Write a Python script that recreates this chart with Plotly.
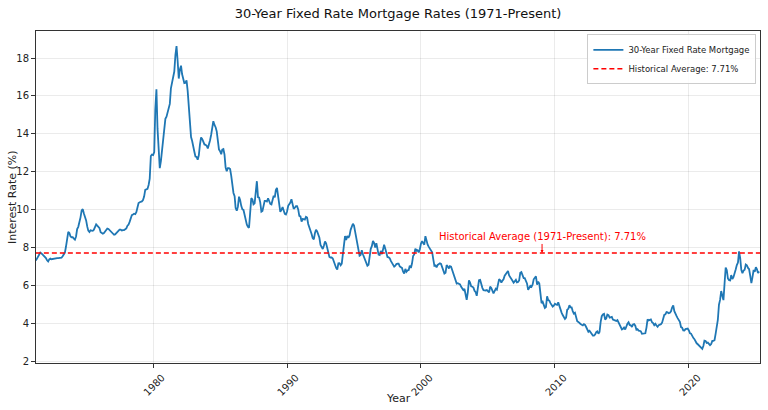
import pandas as pd
import plotly.graph_objects as go

# Monthly 30-year fixed mortgage rates (%)
rates_1970s = [
    7.31, 7.43, 7.53, 7.62, 7.73, 7.69, 7.63, 7.55, 7.48,            # 1971 (Apr-Dec)
    7.44, 7.32, 7.26, 7.37, 7.41, 7.38, 7.40, 7.40, 7.43, 7.43, 7.44, 7.44,
    7.44, 7.44, 7.46, 7.54, 7.65, 7.73, 8.05, 8.50, 8.82, 8.77, 8.58, 8.54,
    8.54, 8.46, 8.41, 8.58, 8.97, 9.09, 9.28, 9.59, 9.96, 10.02, 9.79, 9.62,
    9.43, 9.10, 8.89, 8.82, 8.91, 8.89, 8.88, 8.94, 9.13, 9.22, 9.15, 9.10,
    9.02, 8.81, 8.76, 8.73, 8.76, 8.85, 8.93, 9.00, 8.98, 8.92, 8.81, 8.79,
    8.72, 8.67, 8.69, 8.75, 8.83, 8.86, 8.94, 8.94, 8.90, 8.92, 8.92, 8.96,
    9.01, 9.15, 9.20, 9.35, 9.57, 9.71, 9.74, 9.78, 9.76, 9.86, 10.11, 10.35,
    10.39, 10.41, 10.43, 10.50, 10.69, 11.04, 11.09, 11.09, 11.30, 11.64, 12.83, 12.90,
]
rates_1980s = [
    12.88, 13.04, 15.28, 16.35, 14.26, 12.71, 12.19, 12.56, 13.20, 13.79, 14.21, 14.79,
    14.90, 15.13, 15.40, 15.58, 16.40, 16.70, 16.83, 17.29, 18.16, 18.63, 17.83, 16.92,
    17.40, 17.60, 17.16, 16.89, 16.68, 16.70, 16.82, 16.27, 15.43, 14.61, 13.83, 13.62,
    13.25, 13.04, 12.80, 12.78, 12.63, 12.87, 13.42, 13.81, 13.73, 13.54, 13.44, 13.42,
    13.37, 13.23, 13.39, 13.65, 13.94, 14.42, 14.67, 14.47, 14.35, 14.13, 13.64, 13.18,
    13.08, 12.92, 13.17, 13.20, 12.91, 12.22, 12.03, 12.19, 12.19, 12.14, 11.78, 11.26,
    10.88, 10.71, 10.08, 9.94, 10.14, 10.68, 10.51, 10.20, 10.01, 9.98, 9.70, 9.32,
    9.20, 9.08, 9.04, 9.83, 10.60, 10.54, 10.28, 10.33, 10.89, 11.50, 10.65, 10.64,
    10.38, 9.89, 9.93, 10.20, 10.46, 10.46, 10.43, 10.60, 10.48, 10.30, 10.27, 10.61,
    10.73, 10.65, 11.03, 11.15, 10.77, 10.20, 9.88, 9.99, 10.13, 9.95, 9.77, 9.74,
]
rates_1990s = [
    9.90, 10.20, 10.27, 10.37, 10.55, 10.16, 10.04, 10.10, 10.18, 10.18, 10.01, 9.67,
    9.64, 9.37, 9.50, 9.49, 9.47, 9.62, 9.58, 9.24, 9.01, 8.86, 8.71, 8.50,
    8.43, 8.76, 8.94, 8.85, 8.67, 8.51, 8.13, 7.98, 7.92, 8.09, 8.31, 8.22,
    7.99, 7.68, 7.50, 7.47, 7.47, 7.42, 7.21, 7.11, 6.92, 6.83, 7.16, 7.17,
    7.06, 7.15, 7.68, 8.32, 8.60, 8.40, 8.61, 8.51, 8.64, 8.93, 9.17, 9.25,
    9.15, 8.83, 8.46, 8.32, 7.96, 7.57, 7.61, 7.86, 7.64, 7.48, 7.38, 7.20,
    7.03, 7.08, 7.62, 7.93, 8.07, 8.35, 8.25, 8.00, 8.23, 7.92, 7.62, 7.60,
    7.82, 7.65, 7.90, 8.14, 7.94, 7.69, 7.50, 7.48, 7.43, 7.29, 7.21, 7.10,
    6.99, 7.04, 7.13, 7.14, 7.14, 7.00, 6.95, 6.92, 6.72, 6.62, 6.87, 6.72,
    6.79, 6.81, 7.04, 6.92, 7.15, 7.55, 7.63, 7.94, 7.82, 7.85, 7.74, 7.91,
]
rates_2000s = [
    8.21, 8.33, 8.24, 8.15, 8.60, 8.29, 8.15, 8.03, 7.91, 7.80, 7.75, 7.38,
    7.03, 7.05, 6.95, 7.08, 7.15, 7.16, 7.13, 6.95, 6.82, 6.62, 6.66, 7.07,
    7.00, 6.89, 7.01, 6.99, 6.81, 6.65, 6.49, 6.29, 6.09, 6.11, 6.07, 6.05,
    5.92, 5.84, 5.75, 5.81, 5.48, 5.23, 5.63, 6.26, 6.15, 5.95, 5.93, 5.88,
    5.71, 5.64, 5.45, 5.83, 6.27, 6.29, 6.06, 5.87, 5.75, 5.72, 5.73, 5.75,
    5.71, 5.63, 5.93, 5.86, 5.72, 5.58, 5.70, 5.82, 5.77, 6.07, 6.33, 6.27,
    6.15, 6.25, 6.32, 6.51, 6.60, 6.68, 6.76, 6.52, 6.40, 6.36, 6.24, 6.14,
    6.22, 6.29, 6.16, 6.18, 6.26, 6.66, 6.70, 6.57, 6.38, 6.38, 6.21, 6.10,
    5.76, 5.92, 5.97, 5.92, 6.04, 6.32, 6.43, 6.48, 6.04, 6.20, 6.09, 5.33,
    5.06, 5.13, 5.00, 4.81, 4.86, 5.42, 5.22, 5.19, 5.06, 4.95, 4.88, 4.93,
]
rates_2010s = [
    5.03, 4.99, 4.97, 5.10, 4.89, 4.74, 4.56, 4.43, 4.35, 4.23, 4.30, 4.71,
    4.76, 4.95, 4.84, 4.84, 4.64, 4.51, 4.55, 4.27, 4.11, 4.07, 3.99, 3.96,
    3.92, 3.89, 3.95, 3.91, 3.80, 3.68, 3.55, 3.60, 3.50, 3.38, 3.35, 3.35,
    3.41, 3.53, 3.57, 3.45, 3.54, 4.07, 4.37, 4.46, 4.49, 4.19, 4.26, 4.46,
    4.43, 4.30, 4.34, 4.34, 4.19, 4.16, 4.13, 4.12, 4.16, 4.04, 4.00, 3.86,
    3.67, 3.71, 3.77, 3.67, 3.84, 3.98, 4.05, 3.91, 3.89, 3.80, 3.94, 3.96,
    3.87, 3.66, 3.69, 3.61, 3.60, 3.57, 3.44, 3.44, 3.46, 3.47, 3.77, 4.20,
    4.15, 4.17, 4.20, 4.05, 4.01, 3.90, 3.97, 3.88, 3.81, 3.90, 3.92, 3.95,
    4.03, 4.33, 4.44, 4.47, 4.59, 4.57, 4.53, 4.55, 4.63, 4.83, 4.94, 4.64,
    4.46, 4.37, 4.27, 4.14, 4.07, 3.80, 3.77, 3.62, 3.61, 3.69, 3.70, 3.72,
]
rates_2020s = [
    3.62, 3.47, 3.45, 3.31, 3.23, 3.16, 3.02, 2.94, 2.89, 2.83, 2.77, 2.68,
    2.65, 2.81, 3.08, 3.06, 2.96, 2.98, 2.87, 2.84, 2.90, 3.07, 3.07, 3.10,
    3.45, 3.76, 4.17, 4.98, 5.23, 5.70, 5.41, 5.22, 6.11, 6.94, 6.80, 6.36,
    6.27, 6.26, 6.54, 6.34, 6.43, 6.71, 6.84, 7.07, 7.20, 7.79, 7.44, 6.82,
    6.64, 6.78, 6.82, 7.10, 7.06, 6.92, 6.85, 6.50, 6.12, 6.43, 6.81, 6.72,
    6.96, 6.84, 6.65, 6.73,
]

historical_average = 7.71
start_month = "1971-04-01"
x_ticks = ["1980-01-01", "1990-01-01", "2000-01-01", "2010-01-01", "2020-01-01"]
x_tick_labels = ["1980", "1990", "2000", "2010", "2020"]
y_ticks = [2, 4, 6, 8, 10, 12, 14, 16, 18]
annotation_date = "2009-01-15"

rates = rates_1970s + rates_1980s + rates_1990s + rates_2000s + rates_2010s + rates_2020s
dates = pd.date_range(start_month, periods=len(rates), freq="MS")

FONT = "DejaVu Sans"

fig = go.Figure()
fig.add_trace(go.Scatter(
    x=dates, y=rates, mode="lines", name="30-Year Fixed Rate Mortgage",
    line=dict(color="#1f77b4", width=1.8),
))
fig.add_trace(go.Scatter(
    x=[dates[0], pd.Timestamp("2025-04-24")], y=[historical_average, historical_average],
    mode="lines", name=f"Historical Average: {historical_average}%",
    line=dict(color="red", width=1.4, dash="5px,3px"),
))

fig.add_annotation(
    x=annotation_date, y=historical_average,
    text=f"Historical Average (1971-Present): {historical_average}%",
    showarrow=True, arrowhead=2, arrowsize=0.6, arrowwidth=1, arrowcolor="red",
    ax=0, ay=-16, font=dict(family=FONT, size=10, color="red"),
)
# axis titles
fig.add_annotation(
    text="Interest Rate (%)", xref="paper", yref="paper", x=-0.0331, y=0.5,
    xanchor="center", yanchor="middle", textangle=-90, showarrow=False,
    font=dict(family=FONT, size=11, color="#222222"),
)
fig.add_annotation(
    text="Year", xref="paper", yref="paper", x=0.5, y=-0.106,
    xanchor="center", yanchor="middle", showarrow=False,
    font=dict(family=FONT, size=11, color="#222222"),
)

axis_common = dict(
    showline=True, linecolor="#333333", linewidth=1, mirror=True,
    ticks="outside", ticklen=4, tickcolor="#333333",
    showgrid=True, gridcolor="rgba(0,0,0,0.08)", gridwidth=1,
    zeroline=False, tickfont=dict(family=FONT, size=10, color="#222222"),
    automargin=False,
)

fig.update_layout(
    width=768, height=410,
    margin=dict(l=36, r=8, t=31, b=47),
    paper_bgcolor="white", plot_bgcolor="white",
    title=dict(text="30-Year Fixed Rate Mortgage Rates (1971-Present)",
               x=0.5, xanchor="center", xref="paper", yref="container",
               y=0.968, yanchor="middle",
               font=dict(family=FONT, size=13, color="#111111")),
    font=dict(family=FONT, color="#222222"),
    xaxis=dict(
        range=["1971-04-05", "2025-04-24"],
        tickvals=x_ticks, ticktext=x_tick_labels, tickangle=-45, ticklabelshift=9,
        **axis_common,
    ),
    yaxis=dict(
        range=[1.9, 19.43], tickvals=y_ticks,
        **axis_common,
    ),
    legend=dict(
        x=0.995, y=0.99, xanchor="right", yanchor="top",
        bgcolor="rgba(255,255,255,0.85)", bordercolor="#cccccc", borderwidth=1,
        font=dict(family=FONT, size=8.5, color="#222222"),
        tracegroupgap=0, itemwidth=30,
    ),
    showlegend=True,
)

# remove the browser's default page margin so the 768x410 figure fills the window
fig.write_html("out.html", config={"displayModeBar": False},
               post_script="document.body.style.margin='0';")
